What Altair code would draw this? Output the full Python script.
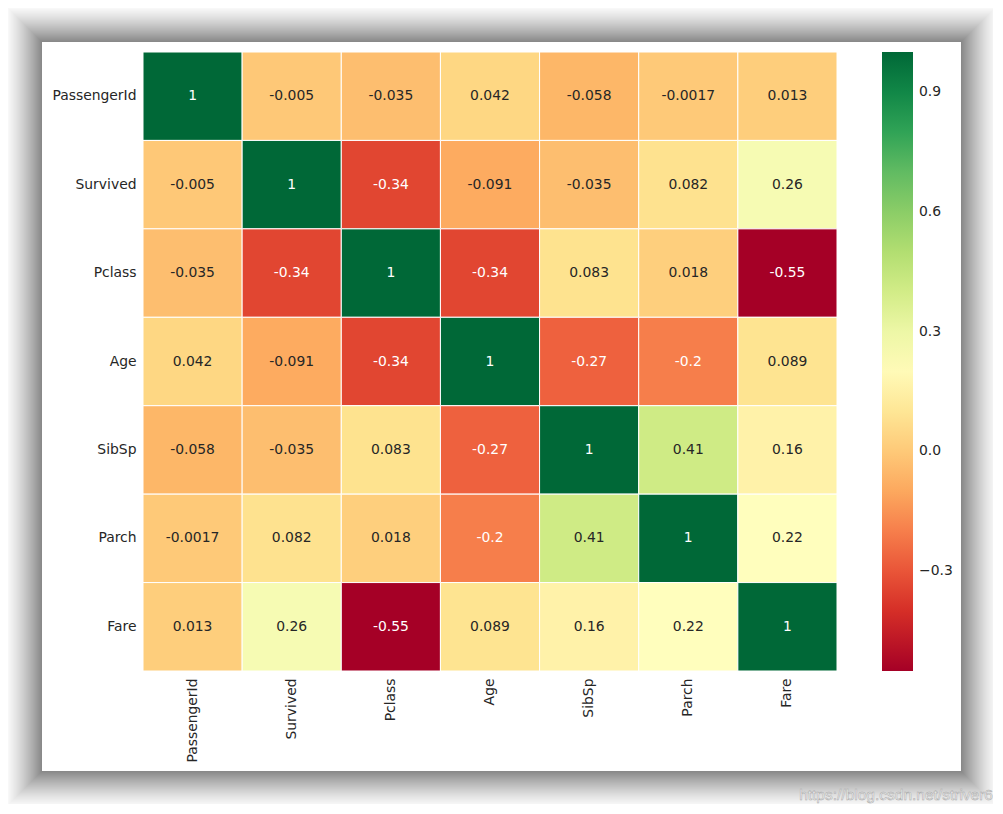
import altair as alt
import pandas as pd

# ---- data ----
names = ["PassengerId", "Survived", "Pclass", "Age", "SibSp", "Parch", "Fare"]
r_passengerid = [1, -0.005, -0.035, 0.042, -0.058, -0.0017, 0.013]
r_survived = [-0.005, 1, -0.34, -0.091, -0.035, 0.082, 0.26]
r_pclass = [-0.035, -0.34, 1, -0.34, 0.083, 0.018, -0.55]
r_age = [0.042, -0.091, -0.34, 1, -0.27, -0.2, 0.089]
r_sibsp = [-0.058, -0.035, 0.083, -0.27, 1, 0.41, 0.16]
r_parch = [-0.0017, 0.082, 0.018, -0.2, 0.41, 1, 0.22]
r_fare = [0.013, 0.26, -0.55, 0.089, 0.16, 0.22, 1]
cbar_ticks = [-0.3, 0.0, 0.3, 0.6, 0.9]
watermark = "https://blog.csdn.net/striver6"

matrix = [r_passengerid, r_survived, r_pclass, r_age, r_sibsp, r_parch, r_fare]
rows = []
for rn, vals in zip(names, matrix):
    for cn, v in zip(names, vals):
        rows.append({"row": rn, "col": cn, "v": v, "label": format(v, ".2g")})
df = pd.DataFrame(rows)

# RdYlGn (ColorBrewer 11) as used by matplotlib
rdylgn = ["#a50026", "#d73027", "#f46d43", "#fdae61", "#fee08b", "#ffffbf",
          "#d9ef8b", "#a6d96a", "#66bd63", "#1a9850", "#006837"]
vmin, vmax = float(df["v"].min()), float(df["v"].max())
dom = [vmin + (vmax - vmin) * i / 10 for i in range(11)]

FONT = "DejaVu Sans"
FS = 13.9
TXT = "#262626"
W, H = 694, 619

one = alt.Data(values=[{"a": 1}])

# ---- framed "photo" look: soft shadow (grey steps) + white box ----
bx0, bx1, by0, by1 = -101, 818, -10, 719
REACH = 38


def shade(d):
    if d >= REACH:
        return 0.0
    return 0.47 * (1 - d / REACH) ** 1.3


steps = []
for i, s in enumerate(range(REACH, 0, -1)):
    g = int(round(255 * (1 - shade(s - 0.5))))
    steps.append({"i": i, "x0": bx0 - s, "x1": bx1 + s, "y0": by0 - s, "y1": by1 + s,
                  "g": "#{0:02x}{0:02x}{0:02x}".format(g)})
shadow_df = pd.DataFrame(steps)

shadow = alt.Chart(shadow_df).mark_rect().encode(
    x=alt.X("x0:Q", scale=None, axis=None), x2="x1:Q",
    y=alt.Y("y0:Q", scale=None, axis=None), y2="y1:Q",
    color=alt.Color("g:N", scale=None, legend=None),
    order=alt.Order("i:Q"),
)
box = alt.Chart(one).mark_rect(color="white").encode(
    x=alt.value(bx0), x2=alt.value(bx1), y=alt.value(by0), y2=alt.value(by1))

xenc = alt.X("col:N", sort=names, title=None,
             scale=alt.Scale(paddingInner=0, paddingOuter=0),
             axis=alt.Axis(labelAngle=-90, ticks=False, domain=False, labelPadding=7,
                           labelFont=FONT, labelFontSize=FS, labelColor=TXT,
                           labelAlign="right", labelBaseline="middle"))
yenc = alt.Y("row:N", sort=names, title=None,
             scale=alt.Scale(paddingInner=0, paddingOuter=0),
             axis=alt.Axis(ticks=False, domain=False, labelPadding=7,
                           labelFont=FONT, labelFontSize=FS, labelColor=TXT))

base = alt.Chart(df)
heat = base.mark_rect(stroke="white", strokeWidth=1).encode(
    x=xenc, y=yenc,
    color=alt.Color("v:Q",
                    scale=alt.Scale(domain=dom, range=rdylgn, interpolate="rgb"),
                    legend=alt.Legend(title=None, orient="none", legendX=739, legendY=0,
                                      direction="vertical", gradientLength=H,
                                      gradientThickness=31, gradientStrokeWidth=0,
                                      values=cbar_ticks, format=".1f",
                                      labelFont=FONT, labelFontSize=FS, labelColor=TXT,
                                      labelOffset=6, labelOverlap=False)),
)
text = base.mark_text(font=FONT, fontSize=FS).encode(
    x=alt.X("col:N", sort=names), y=alt.Y("row:N", sort=names),
    text="label:N",
    color=alt.condition("datum.v < -0.15 || datum.v > 0.7",
                        alt.value("white"), alt.value(TXT)),
)
wm = alt.Chart(one).mark_text(font="Liberation Sans", fontSize=15.5, align="right",
                              baseline="alphabetic", color="#f4f4f4",
                              stroke="#a8a8a8", strokeWidth=0.5).encode(
    x=alt.value(850), y=alt.value(748), text=alt.value(watermark))

chart = alt.layer(shadow, box, heat, text, wm).resolve_scale(
    x="independent", y="independent", color="independent"
).properties(
    width=W, height=H,
    padding={"left": 135, "top": 44, "right": 156, "bottom": 133},
    autosize=alt.AutoSizeParams(type="none"),
).configure_view(stroke=None)

chart.save("out.html", embed_options={"renderer": "svg", "actions": False})
